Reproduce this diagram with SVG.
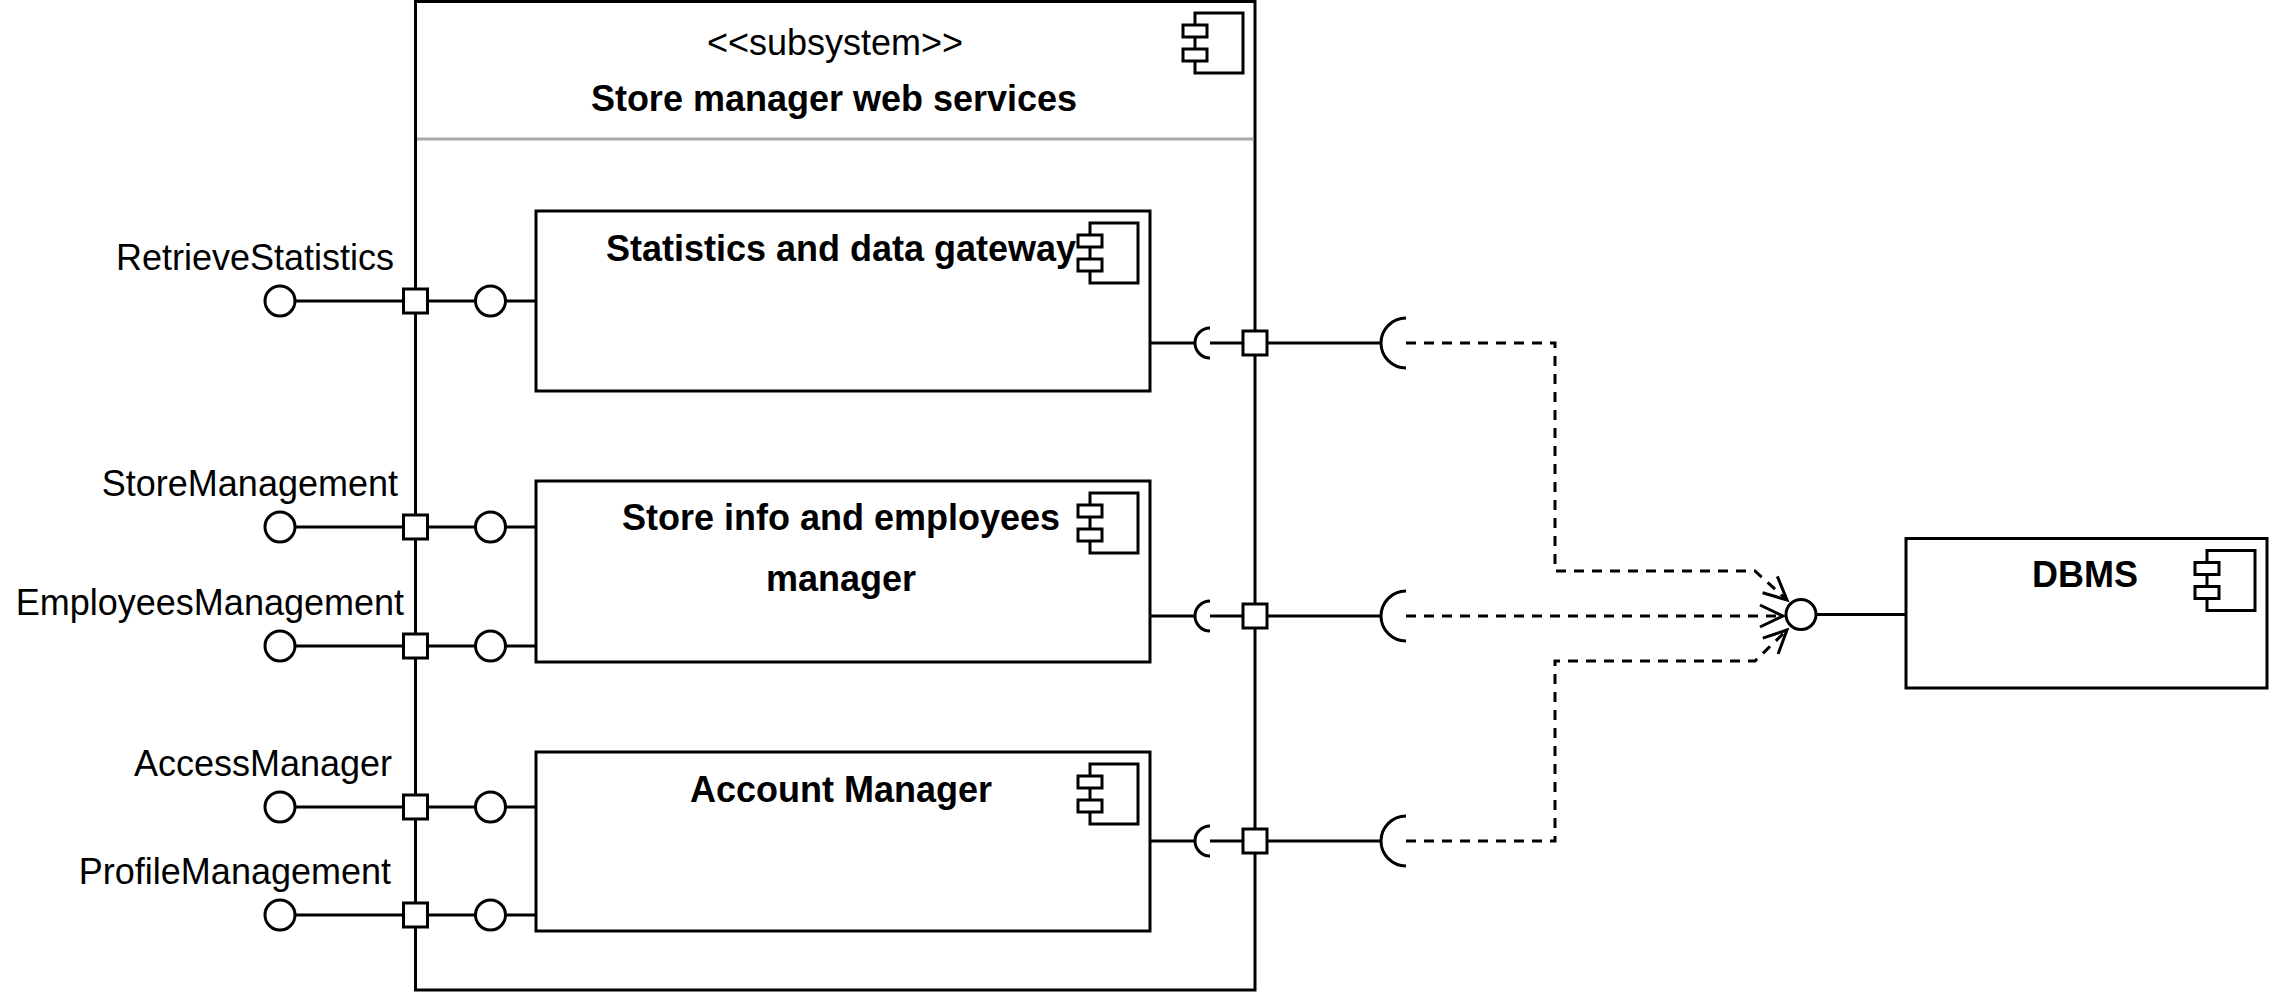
<svg xmlns="http://www.w3.org/2000/svg" xmlns:xlink="http://www.w3.org/1999/xlink" width="2271" height="996" viewBox="0 0 2271 996">
  <style>
    .box { fill: #ffffff; stroke: #000000; stroke-width: 3; }
    .ln { fill: none; stroke: #000000; stroke-width: 3; }
    .dash { fill: none; stroke: #000000; stroke-width: 3; stroke-dasharray: 10 8; }
    .lbl { font-family: "Liberation Sans", Arial, Helvetica, sans-serif; font-size: 36px; fill: #000000; }
    .ttl { font-family: "Liberation Sans", Arial, Helvetica, sans-serif; font-size: 36px; font-weight: bold; fill: #000000; text-anchor: middle; }
  </style>
  <defs>
    <g id="icon">
      <rect class="box" x="0" y="0" width="48" height="60"/>
      <rect class="box" x="-12" y="12" width="24" height="12"/>
      <rect class="box" x="-12" y="36" width="24" height="12"/>
    </g>
    <marker id="open" viewBox="-26 -14 29 28" refX="0" refY="0" markerWidth="29" markerHeight="28" markerUnits="userSpaceOnUse" orient="auto">
      <path d="M-23,-11 L0,0 L-23,11" fill="none" stroke="#000000" stroke-width="3" stroke-dasharray="none"/>
    </marker>
  </defs>
  <rect width="2271" height="996" fill="#ffffff"/>

  <g id="subsystem">
    <rect class="box" x="415.5" y="1.5" width="839.5" height="988.5"/>
    <line x1="417" y1="139" x2="1253.5" y2="139" stroke="#a8a8a8" stroke-width="3"/>
    <use xlink:href="#icon" x="1195" y="13"/>
    <text class="lbl" x="835" y="55" text-anchor="middle">&lt;&lt;subsystem&gt;&gt;</text>
    <text class="ttl" x="834" y="111">Store manager web services</text>
  </g>

  <g id="statistics">
    <rect class="box" x="536" y="211" width="614" height="180"/>
    <use xlink:href="#icon" x="1090" y="223"/>
    <text class="ttl" x="841" y="261">Statistics and data gateway</text>
  </g>

  <g id="storeinfo">
    <rect class="box" x="536" y="481" width="614" height="181"/>
    <use xlink:href="#icon" x="1090" y="493"/>
    <text class="ttl" x="841" y="530">Store info and employees</text>
    <text class="ttl" x="841" y="591">manager</text>
  </g>

  <g id="account">
    <rect class="box" x="536" y="752" width="614" height="179"/>
    <use xlink:href="#icon" x="1090" y="764"/>
    <text class="ttl" x="841" y="802">Account Manager</text>
  </g>

  <g id="dbms">
    <rect class="box" x="1906" y="538.5" width="361" height="149.5"/>
    <use xlink:href="#icon" x="2207" y="550.5"/>
    <text class="ttl" x="2085" y="587">DBMS</text>
  </g>

  <g id="connectors">
    <g id="left-ports">
      <line class="ln" x1="295" y1="301" x2="536" y2="301"/>
      <line class="ln" x1="295" y1="527" x2="536" y2="527"/>
      <line class="ln" x1="295" y1="646" x2="536" y2="646"/>
      <line class="ln" x1="295" y1="807" x2="536" y2="807"/>
      <line class="ln" x1="295" y1="915" x2="536" y2="915"/>
    </g>
    <g id="right-ports">
      <line class="ln" x1="1150" y1="343" x2="1195" y2="343"/>
      <line class="ln" x1="1210" y1="343" x2="1381" y2="343"/>
      <path class="ln" d="M1210,328 A15,15 0 0 0 1210,358"/>
      <path class="ln" d="M1406,318 A25,25 0 0 0 1406,368"/>

      <line class="ln" x1="1150" y1="616" x2="1195" y2="616"/>
      <line class="ln" x1="1210" y1="616" x2="1381" y2="616"/>
      <path class="ln" d="M1210,601 A15,15 0 0 0 1210,631"/>
      <path class="ln" d="M1406,591 A25,25 0 0 0 1406,641"/>

      <line class="ln" x1="1150" y1="841" x2="1195" y2="841"/>
      <line class="ln" x1="1210" y1="841" x2="1381" y2="841"/>
      <path class="ln" d="M1210,826 A15,15 0 0 0 1210,856"/>
      <path class="ln" d="M1406,816 A25,25 0 0 0 1406,866"/>
    </g>
    <path class="dash" d="M1406,343 H1555 V571 H1755 L1787,600" marker-end="url(#open)"/>
    <path class="dash" d="M1406,616 H1783" marker-end="url(#open)"/>
    <path class="dash" d="M1406,841 H1555 V661 H1755 L1787,630" marker-end="url(#open)"/>
    <line class="ln" x1="1816" y1="614.5" x2="1906" y2="614.5"/>
  </g>

  <g id="ports">
    <circle class="box" cx="280" cy="301" r="15"/>
    <circle class="box" cx="280" cy="527" r="15"/>
    <circle class="box" cx="280" cy="646" r="15"/>
    <circle class="box" cx="280" cy="807" r="15"/>
    <circle class="box" cx="280" cy="915" r="15"/>
    <rect class="box" x="403.5" y="289" width="24" height="24"/>
    <rect class="box" x="403.5" y="515" width="24" height="24"/>
    <rect class="box" x="403.5" y="634" width="24" height="24"/>
    <rect class="box" x="403.5" y="795" width="24" height="24"/>
    <rect class="box" x="403.5" y="903" width="24" height="24"/>
    <circle class="box" cx="490.5" cy="301" r="15"/>
    <circle class="box" cx="490.5" cy="527" r="15"/>
    <circle class="box" cx="490.5" cy="646" r="15"/>
    <circle class="box" cx="490.5" cy="807" r="15"/>
    <circle class="box" cx="490.5" cy="915" r="15"/>
    <rect class="box" x="1243" y="331" width="24" height="24"/>
    <rect class="box" x="1243" y="604" width="24" height="24"/>
    <rect class="box" x="1243" y="829" width="24" height="24"/>
    <circle class="box" cx="1801" cy="614.5" r="15"/>
  </g>

  <g id="port-labels">
    <text class="lbl" x="394" y="270" text-anchor="end">RetrieveStatistics</text>
    <text class="lbl" x="398" y="496" text-anchor="end">StoreManagement</text>
    <text class="lbl" x="404" y="615" text-anchor="end">EmployeesManagement</text>
    <text class="lbl" x="392" y="776" text-anchor="end">AccessManager</text>
    <text class="lbl" x="391" y="884" text-anchor="end">ProfileManagement</text>
  </g>
</svg>
